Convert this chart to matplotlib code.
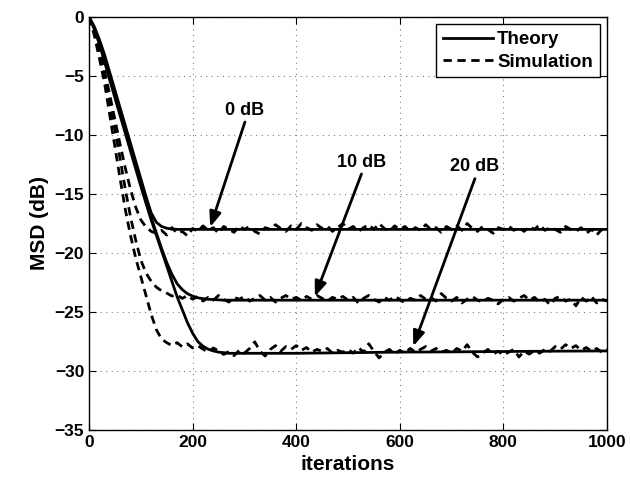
import numpy as np
import matplotlib
matplotlib.use("Agg")
import matplotlib.pyplot as plt

plt.rcParams['font.family'] = ['Liberation Sans', 'DejaVu Sans']
plt.rcParams['font.weight'] = 'bold'

# theory curves (dense at the start, sparse on the plateau)
theory_iter = [0, 10, 20, 30, 40, 50, 60, 70, 80, 90,
               100, 110, 120, 130, 140, 150, 160, 170, 180, 190,
               200, 210, 220, 230, 240, 250, 260, 270, 280, 290,
               300, 400, 500, 600, 700, 800, 900, 1000]

theory_0db = [0, -0.8, -1.9, -3.2, -4.7, -6.2, -7.7, -9.2, -10.7, -12.2,
              -13.7, -15.2, -16.6, -17.4, -17.75, -17.9, -17.97, -18.0, -18.0, -18.0,
              -18.0, -18.0, -18.0, -18.0, -18.0, -18.0, -18.0, -18.0, -18.0, -18.0,
              -18.0, -18.0, -18.0, -18.0, -18.0, -18.0, -18.0, -18.0]

theory_10db = [0, -0.9, -2.1, -3.5, -5.0, -6.5, -8.0, -9.5, -11.0, -12.5,
               -14.0, -15.5, -17.0, -18.3, -19.6, -20.8, -21.8, -22.6, -23.1, -23.45,
               -23.65, -23.8, -23.87, -23.92, -23.95, -23.97, -24.0, -24.0, -24.0, -24.0,
               -24.0, -24.0, -24.0, -24.0, -24.0, -24.0, -24.0, -24.0]

theory_20db = [0, -1.0, -2.3, -3.8, -5.35, -6.85, -8.35, -9.85, -11.35, -12.85,
               -14.35, -15.8, -17.2, -18.5, -19.8, -21.1, -22.4, -23.7, -24.8, -25.9,
               -26.8, -27.5, -27.9, -28.15, -28.3, -28.4, -28.45, -28.5, -28.5, -28.5,
               -28.5, -28.5, -28.45, -28.4, -28.38, -28.35, -28.32, -28.3]

# simulation curves, one value every 10 iterations
sim_iter = np.arange(0, 1001, 10)

sim_0db = [0, -1.2, -2.8, -4.6, -6.6, -8.7, -10.8, -12.8, -14.6, -16.1,
           -17.2, -17.8, -18.17, -18.33, -18.08, -18.48, -17.85, -18.33, -18.17, -18.55,
           -17.92, -18.17, -17.7, -18.08, -17.85, -18.33, -17.75, -18.0, -18.25, -17.7,
           -18.0, -17.75, -18.17, -18.4, -17.85, -18.0, -17.6, -17.92, -18.17, -17.7,
           -18.0, -17.5, -17.85, -18.08, -17.6, -17.92, -17.7, -18.17, -17.85, -17.5,
           -18.0, -17.75, -18.17, -17.85, -17.6, -18.0, -17.5, -17.92, -18.17, -17.7,
           -18.0, -17.75, -18.17, -17.85, -18.08, -17.6, -18.0, -17.85, -18.25, -17.75,
           -18.0, -17.7, -18.08, -17.5, -17.92, -18.17, -17.75, -18.0, -18.33, -17.85,
           -18.0, -17.7, -18.08, -17.85, -18.17, -17.75, -18.0, -17.6, -18.08, -17.85,
           -18.0, -18.25, -17.75, -18.0, -18.17, -17.85, -18.33, -18.0, -18.48, -18.0,
           -18.25]

sim_10db = [0, -1.3, -3.0, -5.0, -7.2, -9.6, -12.0, -14.6, -16.9, -18.9,
            -20.6, -21.7, -22.4, -22.9, -23.2, -23.4, -23.65, -23.55, -23.85, -23.6,
            -23.92, -23.68, -24.08, -23.76, -24.0, -23.6, -23.92, -24.16, -23.76, -23.92,
            -23.68, -24.08, -23.84, -23.6, -24.0, -23.76, -24.16, -23.84, -23.6, -23.92,
            -23.76, -24.0, -23.68, -23.92, -23.6, -23.84, -24.08, -23.76, -23.92, -23.68,
            -24.0, -23.76, -24.24, -23.84, -23.6, -23.92, -24.16, -23.76, -24.0, -23.68,
            -23.92, -24.24, -23.84, -24.0, -23.6, -23.92, -23.76, -24.08, -23.44, -23.84,
            -24.08, -23.76, -24.24, -23.92, -23.68, -24.0, -24.16, -23.84, -24.0, -24.32,
            -23.92, -23.76, -24.08, -23.84, -23.6, -24.0, -23.76, -24.16, -23.92, -24.4,
            -23.84, -23.68, -24.08, -23.92, -24.48, -23.76, -24.08, -23.68, -24.24, -23.92,
            -24.08]

sim_20db = [0, -1.5, -3.5, -5.6, -8.3, -11.0, -13.7, -16.3, -18.5, -20.4,
            -22.0, -23.6, -25.2, -26.5, -27.3, -27.6, -27.85, -27.6, -27.95, -27.7,
            -28.05, -27.85, -28.15, -28.4, -28.05, -28.3, -28.6, -28.35, -28.7, -28.25,
            -28.49, -28.09, -27.53, -28.33, -28.73, -28.17, -27.85, -28.33, -27.93, -28.17,
            -27.85, -28.25, -28.01, -28.41, -28.17, -28.33, -28.09, -28.49, -28.25, -28.41,
            -28.17, -28.49, -28.01, -28.41, -27.69, -28.33, -28.89, -28.41, -28.17, -28.57,
            -28.25, -28.49, -28.09, -28.41, -28.17, -27.93, -28.33, -28.09, -28.41, -28.25,
            -28.49, -28.09, -28.33, -27.77, -28.41, -28.81, -28.49, -28.17, -28.57, -28.33,
            -28.65, -28.41, -28.17, -28.81, -28.33, -28.57, -28.25, -28.49, -28.17, -28.33,
            -27.93, -28.17, -27.77, -28.09, -27.85, -28.25, -28.01, -28.33, -28.09, -28.41,
            -28.17]

snr_labels = ["0 dB", "10 dB", "20 dB"]
label_xy = [(301, -7.9), (526, -12.3), (745, -12.7)]
arrow_tip = [(234, -17.8), (436, -23.7), (626, -27.9)]

fig = plt.figure(figsize=(6.3, 4.84), dpi=100)
ax = fig.add_axes([0.1413, 0.1116, 0.8222, 0.8533])

for th in [theory_0db, theory_10db, theory_20db]:
    ax.plot(theory_iter, th, color='k', lw=2)
for sm in [sim_0db, sim_10db, sim_20db]:
    ax.plot(sim_iter, sm, color='k', lw=2, linestyle=(0, (3, 2)))

# legend handles
ax.plot([], [], color='k', lw=2, label='Theory')
ax.plot([], [], color='k', lw=2, linestyle=(0, (3, 2)), label='Simulation')
leg = ax.legend(loc='upper right', fontsize=13.5, handlelength=2.7,
                handletextpad=0.2, borderpad=0.35, labelspacing=0.3,
                borderaxespad=0.4, fancybox=False, framealpha=1)
leg.get_frame().set_edgecolor('k')
leg.get_frame().set_linewidth(1)

for lab, (tx, ty), (hx, hy) in zip(snr_labels, label_xy, arrow_tip):
    ax.text(tx, ty, lab, fontsize=13, fontweight='bold', ha='center', va='center')
    ax.annotate('', xy=(hx, hy), xytext=(tx, ty - 1.0),
                arrowprops=dict(arrowstyle='-|>,head_length=0.9,head_width=0.35',
                                color='k', lw=2, shrinkA=0, shrinkB=0))

ax.set_xlim(0, 1000)
ax.set_ylim(-35, 0)
ax.set_xticks(range(0, 1001, 200))
ax.set_yticks(range(-35, 1, 5))
ax.grid(True, linestyle=(0, (1, 4)), color='0.5', lw=0.8)
ax.tick_params(direction='in', top=True, right=True, length=5, labelsize=12.5)
for s in ax.spines.values():
    s.set_linewidth(1)

ax.set_xlabel('iterations', fontsize=15, fontweight='bold')
ax.set_ylabel('MSD (dB)', fontsize=15, fontweight='bold')

fig.savefig('out.png', dpi=100)
